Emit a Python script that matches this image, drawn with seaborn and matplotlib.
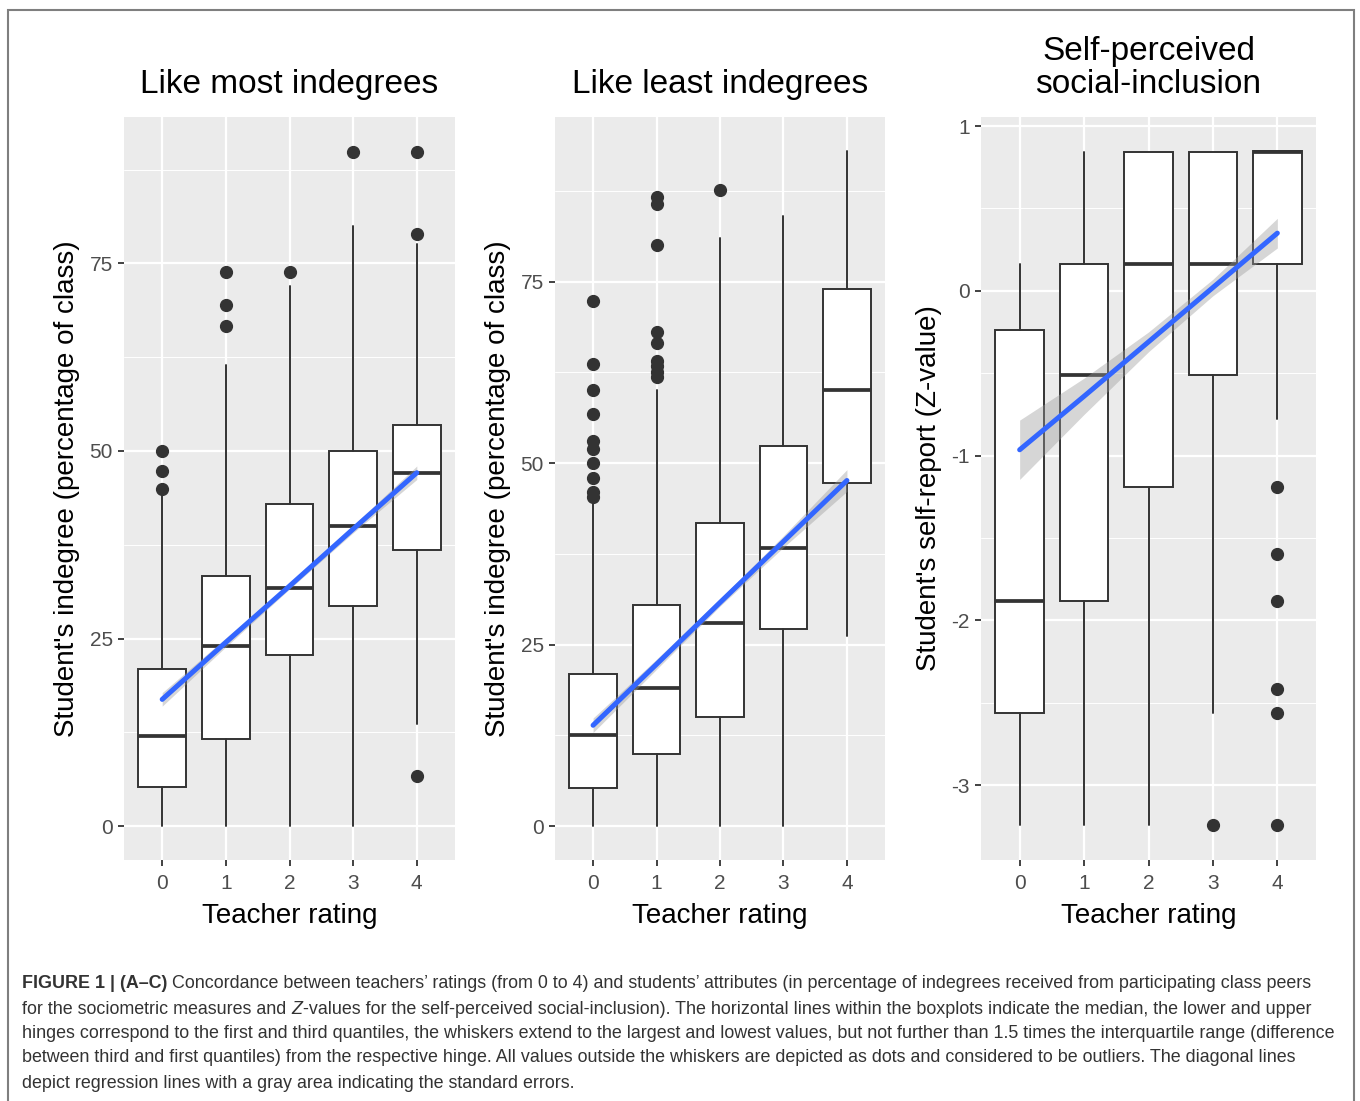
import numpy as np
import matplotlib
matplotlib.use("Agg")
import matplotlib.pyplot as plt
import seaborn as sns
from matplotlib.ticker import MultipleLocator, FixedLocator
from matplotlib.patches import Rectangle

# Teacher rating categories (x axis)
ratings = [0, 1, 2, 3, 4]

# Panel A: Like most indegrees (box statistics)
a_q1 = [5.2, 11.6, 22.8, 29.4, 36.8]
a_med = [12.0, 24.0, 31.8, 40.0, 47.1]
a_q3 = [21.0, 33.4, 42.9, 50.0, 53.4]
a_lo = [0.0, 0.0, 0.0, 0.0, 13.6]
a_hi = [44.0, 61.5, 72.0, 80.0, 77.6]
a_out = [[45.0, 47.3, 50.0], [66.7, 69.5, 73.9], [73.9], [89.8], [89.8, 78.9, 6.7]]
a_fit = [16.9, 24.5, 32.0, 39.6, 47.1]
a_se = [0.9, 0.6, 0.4, 0.5, 0.9]

# Panel B: Like least indegrees
b_q1 = [5.3, 10.0, 15.0, 27.2, 47.2]
b_med = [12.5, 19.0, 28.0, 38.3, 60.0]
b_q3 = [21.0, 30.4, 41.7, 52.3, 74.0]
b_lo = [0.0, 0.0, 0.0, 0.0, 26.2]
b_hi = [44.3, 60.0, 81.0, 84.0, 93.0]
b_out = [[45.3, 46.0, 48.0, 50.0, 52.0, 53.0, 56.7, 60.0, 63.6, 72.3],
         [61.8, 62.5, 63.3, 64.0, 66.5, 68.0, 80.0, 85.7, 86.7],
         [87.6], [], []]
b_fit = [13.9, 22.3, 30.8, 39.2, 47.6]
b_se = [1.0, 0.7, 0.5, 0.8, 1.5]

# Panel C: Self-perceived social-inclusion
c_q1 = [-2.56, -1.88, -1.19, -0.51, 0.16]
c_med = [-1.88, -0.51, 0.16, 0.16, 0.84]
c_q3 = [-0.24, 0.16, 0.84, 0.84, 0.85]
c_lo = [-3.24, -3.24, -3.24, -2.56, -0.78]
c_hi = [0.16, 0.84, 0.84, 0.84, 0.85]
c_out = [[], [], [], [-3.24], [-1.19, -1.60, -1.88, -2.42, -2.56, -3.24]]
c_fit = [-0.965, -0.64, -0.31, 0.02, 0.35]
c_se = [0.18, 0.11, 0.06, 0.05, 0.09]

titles = ["Like most indegrees", "Like least indegrees", "Self-perceived\nsocial-inclusion"]
ylabels = ["Student's indegree (percentage of class)",
           "Student's indegree (percentage of class)",
           "Student's self-report (Z-value)"]
xlabel = "Teacher rating"

caption_lines = [
    [("FIGURE 1 | (A\u2013C)", "bold", "normal"),
     ("Concordance between teachers\u2019 ratings (from 0 to 4) and students\u2019 attributes (in percentage of indegrees received from participating class peers", "normal", "normal")],
    [("for the sociometric measures and", "normal", "normal"), ("Z", "normal", "italic"),
     ("-values for the self-perceived social-inclusion). The horizontal lines within the boxplots indicate the median, the lower and upper", "normal", "normal")],
    [("hinges correspond to the first and third quantiles, the whiskers extend to the largest and lowest values, but not further than 1.5 times the interquartile range (difference", "normal", "normal")],
    [("between third and first quantiles) from the respective hinge. All values outside the whiskers are depicted as dots and considered to be outliers. The diagonal lines", "normal", "normal")],
    [("depict regression lines with a gray area indicating the standard errors.", "normal", "normal")],
]

sns.set_theme(style="darkgrid", rc={
    "axes.facecolor": "#EBEBEB",
    "grid.color": "white",
    "axes.edgecolor": "#EBEBEB",
    "axes.unicode_minus": False,
})
plt.rcParams["font.family"] = ["Liberation Sans", "DejaVu Sans"]

fig = plt.figure(figsize=(13.6, 11.01), dpi=100)

W, H = 1360, 1101
panels = [
    (124, 455, a_q1, a_med, a_q3, a_lo, a_hi, a_out, a_fit, a_se, (-4.5, 94.5), [0, 25, 50, 75], 12.5),
    (555, 885, b_q1, b_med, b_q3, b_lo, b_hi, b_out, b_fit, b_se, (-4.65, 97.65), [0, 25, 50, 75], 12.5),
    (981, 1316, c_q1, c_med, c_q3, c_lo, c_hi, c_out, c_fit, c_se, (-3.455, 1.055), [-3, -2, -1, 0, 1], 0.5),
]
top_px, bot_px = 117, 860
dark = "#333333"

for i, (x0, x1, q1, med, q3, lo, hi, out, fit, se, ylim, yticks, minor) in enumerate(panels):
    ax = fig.add_axes([x0 / W, 1 - bot_px / H, (x1 - x0) / W, (bot_px - top_px) / H])
    stats = []
    for k in range(len(ratings)):
        stats.append(dict(med=med[k], q1=q1[k], q3=q3[k], whislo=lo[k], whishi=hi[k], fliers=out[k]))
    ax.bxp(stats, positions=ratings, widths=0.75, showcaps=False, patch_artist=True,
           boxprops=dict(facecolor="white", edgecolor=dark, linewidth=1.4),
           medianprops=dict(color=dark, linewidth=2.7, solid_capstyle="butt"),
           whiskerprops=dict(color=dark, linewidth=1.4),
           flierprops=dict(marker="o", markerfacecolor=dark, markeredgecolor=dark, markersize=8.5),
           manage_ticks=False, zorder=2)
    fit = np.array(fit)
    se = np.array(se)
    ax.fill_between(ratings, fit - se, fit + se, color="#999999", alpha=0.4, linewidth=0, zorder=3)
    sns.lineplot(x=ratings, y=fit, ax=ax, color="#3366FF", linewidth=3.6, zorder=4)

    ax.set_xlim(-0.6, 4.6)
    ax.set_ylim(*ylim)
    ax.xaxis.set_major_locator(FixedLocator(ratings))
    ax.set_xticklabels([str(r) for r in ratings])
    ax.yaxis.set_major_locator(FixedLocator(yticks))
    ax.set_yticklabels([str(t) for t in yticks])
    ax.yaxis.set_minor_locator(MultipleLocator(minor))
    ax.grid(which="major", color="white", linewidth=1.6)
    ax.grid(which="minor", axis="y", color="white", linewidth=0.7)
    ax.grid(which="minor", axis="x", visible=False)
    ax.set_axisbelow(True)
    ax.tick_params(axis="x", which="major", length=4, width=1.3, color=dark,
                   labelsize=15, labelcolor="#4D4D4D", pad=6, bottom=True)
    ax.tick_params(axis="y", which="major", length=4, width=1.3, color=dark,
                   labelsize=15, labelcolor="#4D4D4D", pad=4, left=True)
    ax.tick_params(axis="both", which="minor", length=0)
    for s in ax.spines.values():
        s.set_visible(False)
    ax.set_xlabel(xlabel, fontsize=20, color="black", labelpad=7)
    ax.set_ylabel(ylabels[i], fontsize=20, color="black", labelpad=7)
    ax.set_title(titles[i], fontsize=24, color="black", pad=17, linespacing=1.1)

# outer frame
fig.add_artist(Rectangle((8 / W, -0.01), (1354 - 8) / W, (H - 10) / H + 0.01,
                         transform=fig.transFigure, fill=False, edgecolor="#7F7F7F", linewidth=1.5))

# caption, drawn segment by segment so the bold and italic parts sit inline
cap_family = ["Liberation Sans", "DejaVu Sans"]
renderer = fig.canvas.get_renderer()

# pick the caption size so that the longest line spans the same width as in the figure
probe = fig.text(0, 0, caption_lines[2][0][0], fontsize=12, family=cap_family)
w12 = probe.get_window_extent(renderer).width
probe.remove()
cap_size = 12 * 1319 / w12

probe1 = fig.text(0, 0, "x x", fontsize=cap_size, family=cap_family)
probe2 = fig.text(0, 0, "xx", fontsize=cap_size, family=cap_family)
gap = probe1.get_window_extent(renderer).width - probe2.get_window_extent(renderer).width
probe1.remove()
probe2.remove()

line_y = [984, 1009, 1033, 1058, 1083]
for li, segs in enumerate(caption_lines):
    xpx = 22
    for si, (txt, weight, style) in enumerate(segs):
        t = fig.text(xpx / W, 1 - line_y[li] / H, txt, fontsize=cap_size, family=cap_family,
                     fontweight=weight, fontstyle=style, color="#333333", va="center", ha="left")
        bb = t.get_window_extent(renderer)
        xpx = xpx + bb.width
        nxt = segs[si + 1][0] if si + 1 < len(segs) else ""
        if nxt and not nxt.startswith("-") and txt != "Z":
            xpx += gap
        elif txt == "Z":
            xpx += 0.5

fig.savefig("out.png", dpi=100)
